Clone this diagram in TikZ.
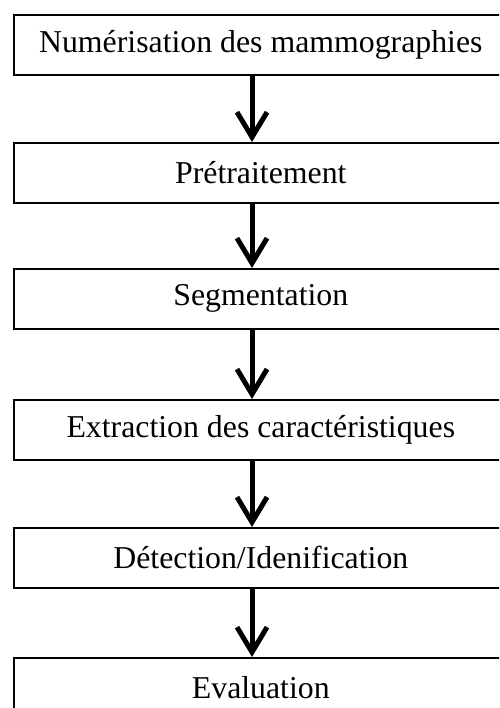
\documentclass[tikz,border=0pt]{standalone}
\usepackage{fontspec}
\setmainfont{Liberation Serif}
\usetikzlibrary{arrows.meta}
\begin{document}
\begin{tikzpicture}[x=1pt,y=-1pt,
  stage/.style={draw=black, line width=1.6pt, fill=white, minimum width=494pt,
    minimum height=60pt, inner sep=0pt, font=\fontsize{31.8}{38}\selectfont,
    anchor=north west},
  flow/.style={line width=5pt,
    -{Straight Barb[length=25pt,width=30pt,line width=5pt]}}]
  \useasboundingbox (0,0) rectangle (499,708);
  \clip (0,0) rectangle (499,708);
  \node[stage] (s1) at (13,14)  {Numérisation des mammographies};
  \node[stage] (s2) at (13,142) {Prétraitement};
  \node[stage] (s3) at (13,268) {Segmentation};
  \node[stage] (s4) at (13,399) {Extraction des caractéristiques};
  \node[stage] (s5) at (13,527) {Détection/Idenification};
  \node[stage] (s6) at (13,657) {Evaluation};
  \foreach \a/\b in {s1/s2,s2/s3,s3/s4,s4/s5,s5/s6}
    \draw[flow] (\a.south -| 252,0) -- (\b.north -| 252,0);
\end{tikzpicture}
\end{document}
